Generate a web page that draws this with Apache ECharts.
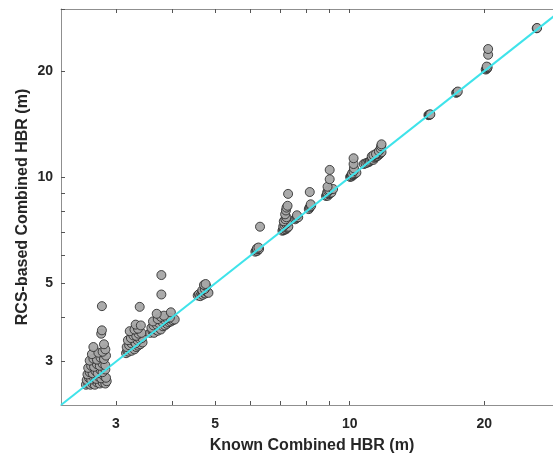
<!DOCTYPE html>
<html><head><meta charset="utf-8">
<script src="https://cdn.jsdelivr.net/npm/echarts@6/dist/echarts.min.js"></script>
<style>html,body{margin:0;padding:0;background:#fff}#c{width:553px;height:454px}</style>
</head><body><div id="c"></div>
<script>
// Known combined HBR (x) and RCS-based combined HBR (y), metres
const knownHBR = [
 2.57,2.6,2.63,2.66,2.69,2.72,2.76,2.8,2.84,2.86,
 2.58,2.61,2.64,2.68,2.71,2.74,2.78,2.82,2.85,
 2.59,2.62,2.66,2.7,2.73,2.77,2.8,2.84,
 2.6,2.64,2.68,2.72,2.76,2.8,2.84,
 2.62,2.67,2.72,2.77,2.82,2.85,
 2.65,2.74,2.8,2.84,
 2.67,2.82,2.78,2.79,2.79,
 3.16,3.18,3.2,3.23,3.25,3.28,3.3,3.33,3.36,3.4,3.44,
 3.17,3.21,3.25,3.29,3.32,3.35,3.39,3.43,
 3.19,3.24,3.28,3.33,3.37,3.42,
 3.22,3.3,3.36,3.32,3.41,3.39,
 3.58,3.62,3.65,3.68,3.72,3.75,3.78,3.82,3.86,3.9,3.94,3.98,4.02,4.06,
 3.6,3.64,3.7,3.74,3.8,3.85,3.9,3.96,
 3.63,3.72,3.78,3.84,3.7,3.98,3.79,3.79,
 4.57,4.6,4.63,4.66,4.69,4.72,4.75,4.78,4.81,4.83,4.68,4.74,4.78,4.72,4.76,
 6.15,6.18,6.21,6.24,6.27,6.2,6.25,6.3,
 7.07,7.1,7.13,7.16,7.2,7.23,7.26,7.29,7.1,7.15,7.2,7.25,7.12,7.18,7.22,7.17,7.2,7.22,7.26,7.28,
 7.55,7.6,7.64,7.67,7.62,
 8.1,8.13,8.16,8.2,8.18,8.14,
 8.85,8.9,8.93,8.97,9.0,9.05,9.1,8.9,8.95,9.0,9.18,8.92,9.02,9.02,
 10.02,10.06,10.1,10.14,10.18,10.22,10.26,10.3,10.35,10.12,10.2,10.22,10.2,10.2,
 10.75,10.85,10.95,11.05,11.1,11.18,11.25,11.3,11.35,11.4,11.48,11.55,11.6,11.66,11.72,11.78,11.2,11.3,11.45,11.62,11.72,11.76,11.78,
 15.0,15.05,15.1,15.15,
 17.3,17.38,17.45,
 20.15,20.25,20.3,20.35,20.25,20.4,20.4,
 26.2,26.25
];
const rcsHBR = [
 2.58,2.6,2.58,2.6,2.58,2.62,2.6,2.62,2.6,2.64,
 2.66,2.7,2.67,2.7,2.68,2.72,2.69,2.73,2.7,
 2.76,2.8,2.78,2.82,2.78,2.84,2.8,2.85,
 2.88,2.92,2.9,2.95,2.92,2.96,2.93,
 3.02,3.06,3.04,3.08,3.05,3.12,
 3.15,3.18,3.2,3.25,
 3.3,3.36,3.6,3.68,4.31,
 3.17,3.22,3.2,3.26,3.22,3.28,3.25,3.3,3.33,3.36,3.4,
 3.3,3.34,3.38,3.42,3.38,3.45,3.48,3.5,
 3.45,3.5,3.56,3.55,3.6,3.62,
 3.66,3.7,3.72,3.82,3.8,4.29,
 3.62,3.66,3.62,3.7,3.67,3.74,3.7,3.78,3.8,3.84,3.88,3.9,3.93,3.95,
 3.74,3.8,3.82,3.86,3.9,3.95,3.98,4.0,
 3.9,3.96,4.02,4.05,4.1,4.14,4.65,5.28,
 4.62,4.66,4.6,4.68,4.64,4.7,4.68,4.74,4.72,4.7,4.78,4.82,4.9,4.95,4.98,
 6.15,6.2,6.18,6.24,6.26,6.28,6.32,7.24,
 7.05,7.1,7.08,7.14,7.12,7.18,7.2,7.24,7.25,7.32,7.38,7.42,7.5,7.6,7.7,7.85,8.05,8.2,8.3,8.97,
 7.6,7.66,7.72,7.7,7.8,
 8.12,8.2,8.25,8.3,8.38,9.08,
 8.85,8.9,8.86,8.95,9.0,9.02,9.05,9.05,9.15,9.2,9.26,9.4,9.87,10.49,
 10.02,10.08,10.05,10.12,10.15,10.2,10.24,10.28,10.3,10.25,10.4,10.6,10.9,11.32,
 10.9,10.95,11.0,11.05,11.12,11.2,11.25,11.2,11.35,11.42,11.45,11.5,11.6,11.62,11.7,11.78,11.45,11.55,11.65,11.85,12.05,12.25,12.4,
 15.0,15.02,15.05,15.08,
 17.35,17.42,17.5,
 20.2,20.3,20.4,20.5,20.6,22.25,23.1,
 26.45,26.5
];
const axisRange = [2.26, 30];
const refLine = [2.26, 30];
const labelTicks = [3, 5, 10, 20];
const allTicks = [3, 4, 5, 6, 7, 8, 9, 10, 20, 30];

const FONT = '"Liberation Sans", Arial, Helvetica, sans-serif';
const AX = '#8f8f8f';
const points = knownHBR.map((x, i) => [x, rcsHBR[i]]);

function mkAxis(pos, withLabels, name, isY) {
  return {
    type: 'log', logBase: 10, min: axisRange[0], max: axisRange[1],
    position: pos,
    axisLine: { show: true, onZero: false, lineStyle: { color: AX, width: 1 } },
    axisTick: { show: true, inside: true, length: 4, customValues: allTicks, lineStyle: { color: '#555', width: 1 } },
    axisLabel: {
      show: withLabels, customValues: labelTicks, margin: isY ? 8 : 12,
      formatter: v => String(Math.round(v * 100) / 100),
      fontFamily: FONT, fontWeight: 'bold', fontSize: 14, color: '#262626'
    },
    splitLine: { show: false },
    minorTick: { show: false },
    name: name || '', nameLocation: 'middle',
    nameGap: isY ? 30 : 33,
    nameMoveOverlap: false,
    nameTextStyle: { fontFamily: FONT, fontWeight: 'bold', fontSize: 16, color: '#262626' }
  };
}

const chart = echarts.init(document.getElementById('c'), null, { renderer: 'canvas' });
chart.setOption({
  animation: false,
  backgroundColor: '#ffffff',
  grid: { left: 61, top: 9, width: 502, height: 396, containLabel: false, outerBoundsMode: 'none' },
  xAxis: [mkAxis('bottom', true, 'Known Combined HBR (m)', false), mkAxis('top', false, '', false)],
  yAxis: [mkAxis('left', true, 'RCS-based Combined HBR (m)', true), mkAxis('right', false, '', true)],
  series: [
    {
      type: 'scatter', xAxisIndex: 0, yAxisIndex: 0, data: points,
      symbol: 'circle', symbolSize: 9,
      itemStyle: { color: '#a6a6a6', borderColor: '#2a2a2a', borderWidth: 0.9, opacity: 0.95 },
      z: 2
    },
    {
      type: 'line', xAxisIndex: 0, yAxisIndex: 0,
      data: [[refLine[0], refLine[0]], [refLine[1], refLine[1]]],
      symbol: 'none', lineStyle: { color: '#3fe3ea', width: 2 }, z: 3
    }
  ]
});
</script>
</body></html>
